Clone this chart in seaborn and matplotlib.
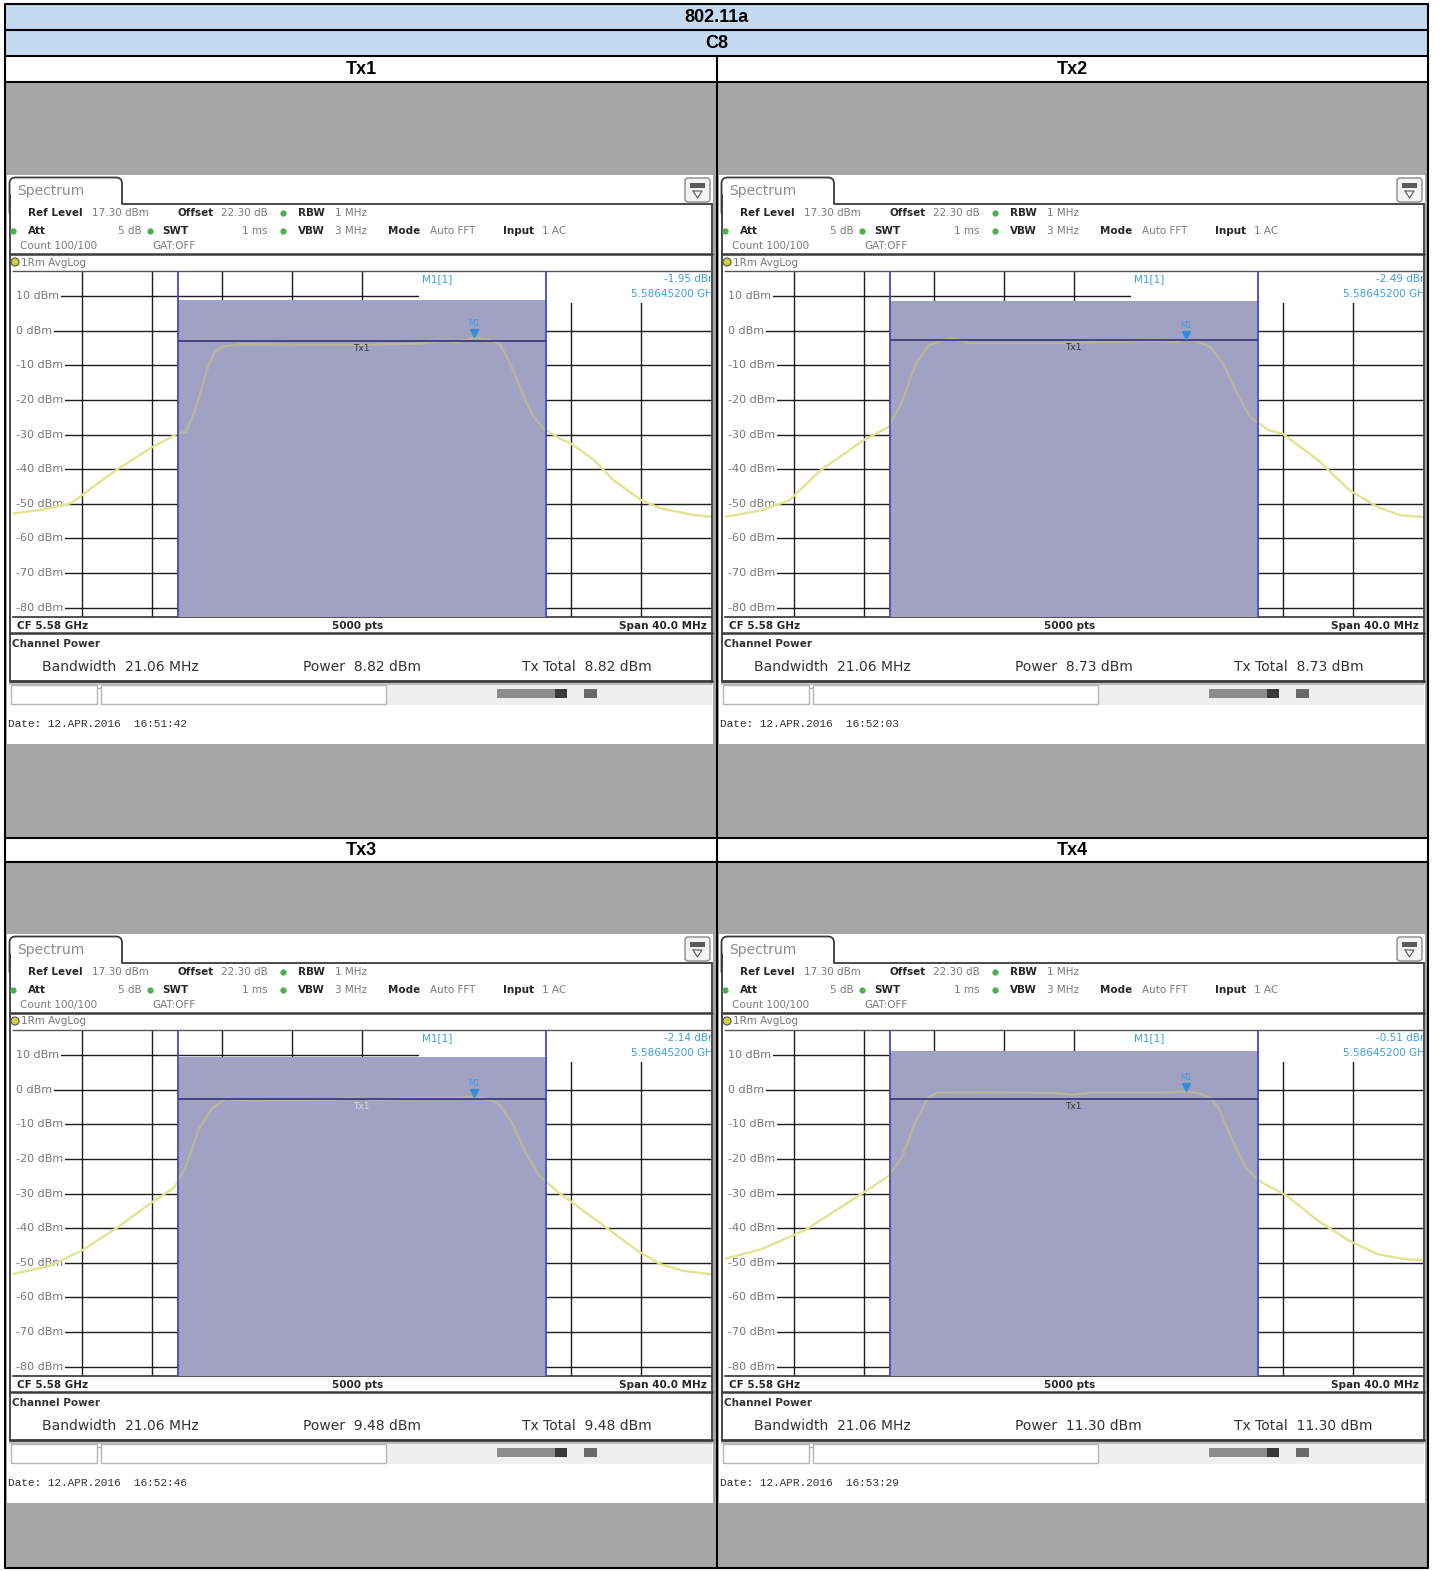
import numpy as np
import pandas as pd
import matplotlib
matplotlib.use("Agg")
import matplotlib.pyplot as plt
import seaborn as sns
from matplotlib.patches import Rectangle, FancyBboxPatch, Circle
import matplotlib.transforms as mtransforms

# ---------------- data ----------------
table_title = "802.11a"
channel_label = "C8"
panel_titles = ["Tx1", "Tx2", "Tx3", "Tx4"]

ref_level_dbm = 17.30
offset_db = 22.30
att_db = 5
rbw_mhz = 1
vbw_mhz = 3
swt_ms = 1
center_ghz = 5.58
span_mhz = 40.0
n_points = 5000
chan_bw_mhz = 21.06
chan_power_dbm = [8.82, 8.73, 9.48, 11.30]
chan_line_dbm = [-2.8, -2.6, -2.7, -2.7]
marker_ghz = 5.58645200
marker_dbm = [-1.95, -2.49, -2.14, -0.51]
date_str = "12.APR.2016"
time_strs = ["16:51:42", "16:52:03", "16:52:46", "16:53:29"]
level_ticks = [10, 0, -10, -20, -30, -40, -50, -60, -70, -80]
freq_grid_mhz = [4, 8, 12, 16, 20, 24, 28, 32, 36]

# traces: frequency offset from span start (MHz) and level (dBm)
tx1_f = [0.0, 1.8, 3.35, 4.0, 5.8, 7.9, 9.4, 9.95, 10.4, 10.8, 11.2, 11.6, 12.0, 13.0, 16.0, 20.0,
         23.5, 24.6, 25.4, 26.45, 27.35, 27.9, 28.3, 28.75, 29.05, 29.45, 29.85, 30.4, 31.35, 31.95,
         33.3, 34.4, 36.0, 37.1, 39.0, 40.0]
tx1_v = [-52.8, -51.6, -49.8, -47.4, -40.7, -33.9, -29.8, -29.1, -23.8, -17.1, -10.4, -6.0, -4.6,
         -3.9, -4.0, -4.1, -3.6, -2.8, -3.3, -1.95, -2.6, -3.8, -7.5, -12.3, -16.1, -20.9, -24.8,
         -28.2, -31.1, -32.5, -37.3, -43.1, -48.9, -51.3, -53.2, -53.7]

tx2_f = [0.0, 2.1, 3.7, 5.5, 7.95, 9.4, 10.2, 10.95, 11.7, 12.5, 13.0, 14.0, 19.2, 24.9, 25.8,
         26.45, 27.0, 27.8, 28.55, 29.35, 30.1, 31.15, 31.95, 34.0, 35.8, 37.4, 38.7, 40.0]
tx2_v = [-53.8, -51.9, -49.0, -40.3, -31.6, -27.8, -20.1, -9.5, -4.2, -2.7, -2.2, -3.5, -3.5,
         -2.9, -3.2, -2.49, -2.9, -4.6, -9.5, -18.1, -24.9, -28.7, -29.7, -37.4, -46.1, -50.9,
         -53.3, -53.8]

tx3_f = [0.0, 2.1, 3.95, 6.0, 7.95, 9.25, 9.9, 10.7, 11.45, 12.25, 13.5, 17.0, 19.5, 21.0, 23.0,
         25.0, 26.4, 27.0, 27.8, 28.55, 29.35, 30.1, 31.15, 32.2, 34.0, 35.8, 37.1, 38.4, 40.0]
tx3_v = [-53.3, -50.9, -46.5, -39.8, -32.6, -28.3, -22.5, -11.0, -5.2, -2.5, -3.1, -3.0, -2.5,
         -2.8, -2.4, -2.3, -2.14, -2.5, -3.75, -9.0, -17.7, -24.4, -29.2, -33.1, -39.8, -46.5,
         -50.4, -52.3, -53.3]

tx4_f = [0.0, 2.1, 4.7, 7.95, 9.4, 10.15, 10.95, 11.7, 12.25, 15.0, 19.0, 19.9, 21.0, 25.0, 26.4,
         27.1, 27.8, 28.3, 29.1, 29.85, 30.6, 32.2, 34.0, 35.8, 37.4, 38.9, 40.0]
tx4_v = [-48.9, -46.1, -40.3, -29.7, -24.9, -19.6, -9.0, -2.0, -0.8, -0.7, -0.9, -1.4, -0.8,
         -0.8, -0.51, -0.9, -2.2, -5.2, -14.8, -22.5, -26.3, -30.6, -37.9, -43.7, -47.5, -48.9,
         -49.2]

traces = [(tx1_f, tx1_v), (tx2_f, tx2_v), (tx3_f, tx3_v), (tx4_f, tx4_v)]

# ---------------- figure ----------------
sns.set_style("white")
plt.rcParams["font.family"] = ["DejaVu Sans"]

W, H = 1439, 1571
fig = plt.figure(figsize=(W / 100, H / 100), dpi=100)
bg = fig.add_axes([0, 0, 1, 1])
bg.set_xlim(0, W)
bg.set_ylim(H, 0)
bg.axis("off")

HEAD_BLUE = "#c5d9f1"
CELL_GRAY = "#a6a6a6"
FRAME = "#3a3a3a"
GRAYTXT = "#7a7a7a"
DARKTXT = "#262626"
BLUE_TXT = "#3d9ee0"

# table
bg.add_patch(Rectangle((5, 4), 1423, 52, fc=HEAD_BLUE, ec="none", zorder=0))
bg.add_patch(Rectangle((5, 82), 1423, 756, fc=CELL_GRAY, ec="none", zorder=0))
bg.add_patch(Rectangle((5, 862), 1423, 706, fc=CELL_GRAY, ec="none", zorder=0))
for yy in [4, 30, 56, 82, 838, 862, 1568]:
    bg.plot([5, 1428], [yy, yy], color="black", lw=1.5, zorder=10, solid_capstyle="butt")
bg.plot([5, 5], [4, 1568], color="black", lw=1.5, zorder=10)
bg.plot([1428, 1428], [4, 1568], color="black", lw=1.5, zorder=10)
bg.plot([716.5, 716.5], [56, 1568], color="black", lw=1.5, zorder=10)

tfont = dict(family="Liberation Sans", fontweight="bold", fontsize=13, ha="center", va="center",
             color="black", zorder=11)
bg.text(716.5, 17.5, table_title, **tfont)
bg.text(716.5, 43.5, channel_label, **tfont)
bg.text(361, 69.5, panel_titles[0], **tfont)
bg.text(1072, 69.5, panel_titles[1], **tfont)
bg.text(361, 850, panel_titles[2], **tfont)
bg.text(1072, 850, panel_titles[3], **tfont)

offsets = [(0, 0), (712, 0), (0, 759), (712, 759)]


def draw_panel(k, dx, dy):
    f, v = traces[k]
    X = lambda x: x + dx
    Y = lambda y: y + dy

    # white screenshot
    bg.add_patch(Rectangle((X(7), Y(175)), 706, 569, fc="white", ec="none", zorder=1))
    # tab
    bg.add_patch(FancyBboxPatch((X(9.5), Y(177.5)), 112.5, 40,
                                boxstyle="round,pad=0,rounding_size=6",
                                fc="white", ec=FRAME, lw=1.3, zorder=2))
    bg.text(X(17), Y(191), "Spectrum", fontsize=10, color="#8c8c8c", va="center", zorder=5)
    # icon
    bg.add_patch(FancyBboxPatch((X(685), Y(178)), 25, 24, boxstyle="round,pad=0,rounding_size=3",
                                fc="#f3f3f3", ec="#8a8a8a", lw=1.0, zorder=2))
    bg.add_patch(Rectangle((X(690), Y(183)), 15, 5, fc="#5a5a5a", ec="none", zorder=3))
    bg.plot([X(693), X(697.5), X(702), X(693)], [Y(191), Y(198), Y(191), Y(191)],
            color="#5a5a5a", lw=0.8, zorder=3)
    # header cover + frame
    bg.add_patch(Rectangle((X(10.2), Y(204)), 701, 48, fc="white", ec="none", zorder=3))
    bg.plot([X(122), X(712)], [Y(203.5), Y(203.5)], color=FRAME, lw=1.3, zorder=4)
    bg.plot([X(9.5), X(9.5)], [Y(195), Y(682)], color=FRAME, lw=1.3, zorder=4)
    bg.plot([X(712), X(712)], [Y(203.5), Y(682)], color=FRAME, lw=1.3, zorder=4)

    # header text
    hs = 7.5
    rows = [
        (28, 213, "Ref Level", True, "left"), (92, 213, f"{ref_level_dbm:.2f} dBm", False, "left"),
        (177, 213, "Offset", True, "left"), (221, 213, f"{offset_db:.2f} dB", False, "left"),
        (298, 213, "RBW", True, "left"), (335, 213, f"{rbw_mhz} MHz", False, "left"),
        (28, 231, "Att", True, "left"), (142, 231, f"{att_db} dB", False, "right"),
        (162, 231, "SWT", True, "left"), (242, 231, f"{swt_ms} ms", False, "left"),
        (298, 231, "VBW", True, "left"), (335, 231, f"{vbw_mhz} MHz", False, "left"),
        (388, 231, "Mode", True, "left"), (430, 231, "Auto FFT", False, "left"),
        (503, 231, "Input", True, "left"), (542, 231, "1 AC", False, "left"),
        (20, 246, "Count 100/100", False, "left"), (152, 246, "GAT:OFF", False, "left"),
    ]
    for (hx, hy, s, b, ha) in rows:
        bg.text(X(hx), Y(hy), s, fontsize=hs, fontweight="bold" if b else "normal",
                color=DARKTXT if b else GRAYTXT, va="center", ha=ha, zorder=5)
    for (gx, gy) in [(283, 213), (13, 231), (150, 231), (283, 231)]:
        bg.plot([X(gx)], [Y(gy)], marker="o", ms=3.5, color="#4cae4c", zorder=5)

    # plot frame
    bg.plot([X(9.5), X(712)], [Y(253.5), Y(253.5)], color=FRAME, lw=1.8, zorder=5)
    bg.plot([X(9.5), X(712)], [Y(633), Y(633)], color=FRAME, lw=1.8, zorder=5)
    bg.add_patch(Circle((X(15), Y(262)), 4, fc="#c9d23a", ec="#555", lw=0.8, zorder=5))
    bg.text(X(21), Y(262.5), "1Rm AvgLog", fontsize=7.5, color=GRAYTXT, va="center", zorder=5)

    # bottom bar
    bg.text(X(17), Y(626), f"CF {center_ghz:.2f} GHz", fontsize=7.5, fontweight="bold",
            color=DARKTXT, va="center", zorder=5)
    bg.text(X(358), Y(626), f"{n_points} pts", fontsize=7.5, fontweight="bold",
            color=DARKTXT, va="center", ha="center", zorder=5)
    bg.text(X(707), Y(626), f"Span {span_mhz:.1f} MHz", fontsize=7.5, fontweight="bold",
            color=DARKTXT, va="center", ha="right", zorder=5)

    # channel power box
    bg.plot([X(9.5), X(712)], [Y(681), Y(681)], color=FRAME, lw=2.0, zorder=5)
    bg.plot([X(9.5), X(712)], [Y(683.5), Y(683.5)], color="#b0b0b0", lw=1.2, zorder=5)
    bg.text(X(12), Y(644), "Channel Power", fontsize=7.5, fontweight="bold", color="#333",
            va="center", zorder=5)
    p = chan_power_dbm[k]
    bg.text(X(42), Y(667), f"Bandwidth  {chan_bw_mhz:.2f} MHz", fontsize=10, color="#333",
            va="center", zorder=5)
    bg.text(X(303), Y(667), f"Power  {p:.2f} dBm", fontsize=10, color="#333", va="center", zorder=5)
    bg.text(X(522), Y(667), f"Tx Total  {p:.2f} dBm", fontsize=10, color="#333", va="center",
            zorder=5)

    # status bar
    bg.add_patch(Rectangle((X(387), Y(684.5)), 325, 20, fc="#efefef", ec="none", zorder=4))
    bg.add_patch(Rectangle((X(10.5), Y(685)), 86, 19, fc="white", ec="#b5b5b5", lw=1, zorder=5))
    bg.plot([X(96.5), X(101)], [Y(688), Y(688)], color="#b5b5b5", lw=1, zorder=5)
    bg.add_patch(Rectangle((X(101), Y(685)), 285, 19, fc="white", ec="#b5b5b5", lw=1, zorder=5))
    bg.add_patch(Rectangle((X(497), Y(689)), 58, 9, fc="#8c8c8c", ec="none", zorder=5))
    bg.add_patch(Rectangle((X(555), Y(689)), 12, 9, fc="#3a3a3a", ec="none", zorder=5))
    bg.add_patch(Rectangle((X(584), Y(689)), 13, 9, fc="#6a6a6a", ec="none", zorder=5))

    # date
    bg.text(X(8), Y(724), f"Date: {date_str}  {time_strs[k]}", family="Liberation Mono",
            fontsize=8, color="#333", va="center", zorder=5)

    # -------- spectrum grid axes --------
    ax = fig.add_axes([X(12.5) / W, 1 - Y(617) / H, 698.5 / W, 346 / H])
    ybot = ref_level_dbm - 100
    ax.set_xlim(0, span_mhz)
    ax.set_ylim(ybot, ref_level_dbm)
    ax.set_facecolor("white")
    ax.set_xticks(freq_grid_mhz)
    ax.set_yticks(level_ticks)
    ax.tick_params(length=0, labelleft=False, labelbottom=False)
    ax.set_axisbelow(True)
    ax.grid(True, color="#1c1c1c", lw=1.0)
    for s in ["left", "right"]:
        ax.spines[s].set_visible(False)
    ax.spines["top"].set_color("#555")
    ax.spines["top"].set_linewidth(1.0)
    ax.spines["bottom"].set_color("#333")
    ax.spines["bottom"].set_linewidth(1.2)
    ax.set_xlabel("")
    ax.set_ylabel("")

    # white strip at the left edge so grid lines start after the level labels
    ax.add_patch(Rectangle((0, ybot + 1.5), 0.3, 100 - 3, fc="white", ec="none", zorder=1))
    for t in level_ticks:
        ax.text(0.2, t, f"{t} dBm", fontsize=8, color="#777", va="center", ha="left",
                zorder=2, bbox=dict(fc="white", ec="none", pad=1.2))

    # marker info box
    ax.add_patch(Rectangle((23.3, ref_level_dbm - 9.3), span_mhz - 23.3, 9.3, fc="white",
                           ec="none", zorder=1))
    mval = marker_dbm[k]
    ax.text(23.45, ref_level_dbm - 2.4, "M1[1]", fontsize=7.5, color=BLUE_TXT, va="center",
            zorder=2)
    ax.text(40.4, ref_level_dbm - 2.4, f"{mval:.2f} dBm", fontsize=7.5, color=BLUE_TXT,
            va="center", ha="right", zorder=2, clip_on=True)
    ax.text(40.4, ref_level_dbm - 6.7, f"{marker_ghz:.8f} GHz", fontsize=7.5, color=BLUE_TXT,
            va="center", ha="right", zorder=2, clip_on=True)

    # trace (outside channel)
    sns.lineplot(x=f, y=v, ax=ax, color="#e3e392", lw=1.7, zorder=2, legend=False,
                 estimator=None, sort=False)
    # channel power shading
    c0 = span_mhz / 2
    bars = ax.bar([c0], [p - ybot], width=chan_bw_mhz, bottom=ybot, color="#a1a1c3", lw=0,
                  zorder=3)
    # trace seen through shading
    sns.lineplot(x=f, y=v, ax=ax, color="#b8b59e", lw=1.7, zorder=4, legend=False,
                 estimator=None, sort=False)
    ax.lines[-1].set_clip_path(bars.patches[0])

    left, right = c0 - chan_bw_mhz / 2, c0 + chan_bw_mhz / 2
    ax.axvline(left, color="#4848c8", lw=1.3, zorder=5)
    ax.axvline(right, color="#4848c8", lw=1.3, zorder=5)
    ax.hlines(chan_line_dbm[k], left, right, color="#3c3c7c", lw=1.3, zorder=5)
    ax.text(c0, chan_line_dbm[k] - 0.9, "Tx1", fontsize=6.5, ha="center", va="top",
            color="#dcdcdc" if k == 2 else "#333", zorder=5)

    # marker M1
    mx = (marker_ghz - center_ghz) * 1000 + span_mhz / 2
    tr = mtransforms.offset_copy(ax.transData, fig=fig, x=0, y=3, units="points")
    ax.plot([mx], [mval], marker="v", ms=5.5, color="#2f8fd8", transform=tr, zorder=6, ls="none")
    ax.annotate("M1", (mx, mval), xytext=(0, 10), textcoords="offset points", ha="center",
                va="center", fontsize=5.5, color=BLUE_TXT, zorder=6)


for k, (dx, dy) in enumerate(offsets):
    draw_panel(k, dx, dy)

fig.savefig("out.png", dpi=100)
